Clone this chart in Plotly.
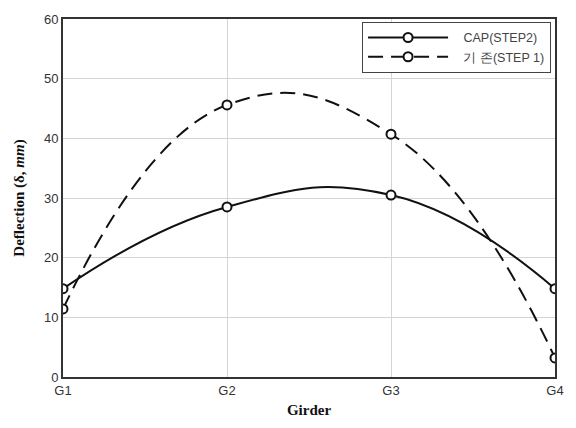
import plotly.graph_objects as go

girders = ["G1", "G2", "G3", "G4"]
girder_pos = [1, 2, 3, 4]
cap_step2 = [14.8, 28.5, 30.5, 14.8]
existing_step1 = [11.4, 45.6, 40.7, 3.2]
y_ticks = [0, 10, 20, 30, 40, 50, 60]
legend_names = ["CAP(STEP2)", "기 존(STEP 1)"]
pad = "\u00a0\u00a0\u00a0"

fig = go.Figure()
fig.add_trace(go.Scatter(
    x=girder_pos, y=cap_step2, name=pad + legend_names[0],
    mode="lines+markers", line=dict(color="#111111", width=2, shape="spline", smoothing=1.3),
    marker=dict(symbol="circle", size=9, color="white", line=dict(color="#111111", width=2)),
))
fig.add_trace(go.Scatter(
    x=girder_pos, y=existing_step1, name=pad + legend_names[1],
    mode="lines+markers", line=dict(color="#111111", width=2, shape="spline", smoothing=1.3, dash="15px,8px"),
    marker=dict(symbol="circle", size=9, color="white", line=dict(color="#111111", width=2)),
))

fig.update_layout(
    width=576, height=428,
    margin=dict(l=63, r=20, t=16, b=46),
    plot_bgcolor="white", paper_bgcolor="white",
    font=dict(family="Liberation Sans, Arial", size=13, color="#333333"),
    legend=dict(
        x=0.992, y=0.992, xanchor="right", yanchor="top",
        bordercolor="#444444", borderwidth=1, bgcolor="white",
        itemwidth=80, font=dict(size=12.5, color="#444444"),
        tracegroupgap=0,
    ),
    xaxis=dict(
        range=[1, 4], tickvals=girder_pos, ticktext=girders,
        showgrid=True, gridcolor="#d4d4d4", gridwidth=1,
        showline=True, linecolor="#333333", linewidth=2, mirror=True,
        zeroline=False, ticks="",
        title=dict(text="<b>Girder</b>", font=dict(family="Liberation Serif, Times New Roman", size=15, color="#111111"), standoff=8),
    ),
    yaxis=dict(
        range=[0, 60], tickvals=y_ticks,
        showgrid=True, gridcolor="#d4d4d4", gridwidth=1,
        showline=True, linecolor="#333333", linewidth=2, mirror=True,
        zeroline=False, ticks="",
        title=dict(text="<b>Deflection (δ, <i>mm</i>)</b>", font=dict(family="Liberation Serif, Times New Roman", size=15, color="#111111"), standoff=16),
    ),
)

fig.write_html("out.html")
